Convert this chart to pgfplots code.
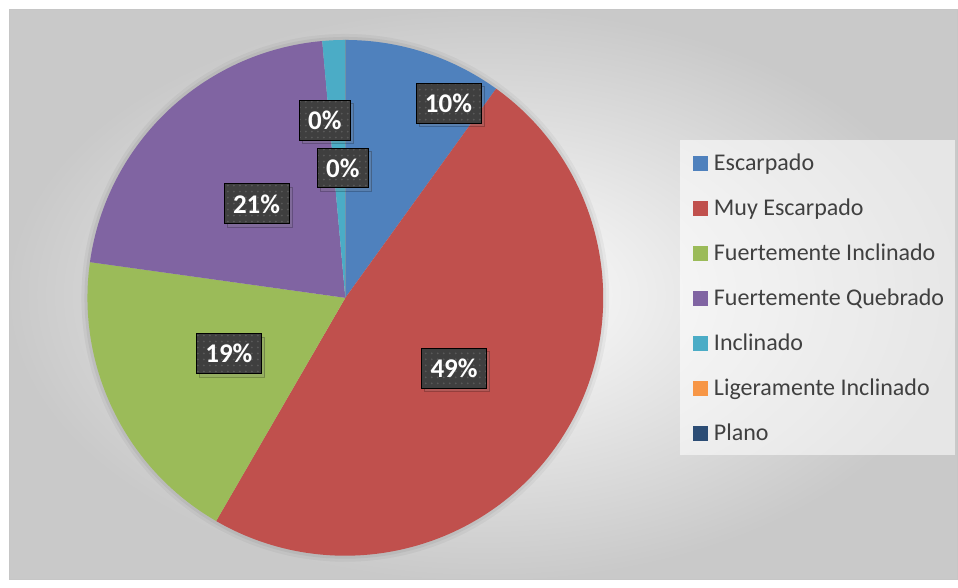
\documentclass[border=0pt]{standalone}
\usepackage{pgfplots}
\pgfplotsset{compat=1.18}
\usepackage{pgfplotstable}
\usepackage{fontspec}
\setmainfont{Carlito}
\usetikzlibrary{patterns,shadows}

\definecolor{cEsc}{HTML}{4F81BD}
\definecolor{cMuy}{HTML}{C0504D}
\definecolor{cFI}{HTML}{9BBB59}
\definecolor{cFQ}{HTML}{8064A2}
\definecolor{cInc}{HTML}{4BACC6}
\definecolor{cLig}{HTML}{F79646}
\definecolor{cPla}{HTML}{2C4D75}
\definecolor{txt}{HTML}{404040}
\definecolor{lblbg}{HTML}{3F3F3F}

% slice shares (%), clockwise from the top
\pgfplotstableread{
value color
9.94  cEsc
48.41 cMuy
18.86 cFI
21.36 cFQ
1.43  cInc
0     cLig
0     cPla
}\piedata

% data labels, placed in pixel units of the chart
\pgfplotstableread{
x     y     pct
448.7 476.7 10
325.0 460.0 0
343.0 412.0 0
256.7 376.0 21
229.0 226.0 19
454.3 211.5 49
}\labeldata

\pgfplotstablegetrowsof{\piedata}
\pgfmathtruncatemacro\nslices{\pgfplotsretval-1}

\begin{document}
\begin{tikzpicture}
\begin{axis}[hide axis, scale only axis, width=479pt, height=290pt,
  xmin=0, xmax=958, ymin=0, ymax=580, clip=false,
  legend image code/.code={\fill[#1] (0pt,-3.5pt) rectangle (7pt,3.5pt);},
  legend cell align=left,
  legend style={at={(axis description cs:0.7231,0.7572)}, anchor=north west,
    draw=none, fill=none, inner sep=0pt, row sep=0pt,
    font=\fontsize{12}{14}\selectfont, text=txt,
    nodes={minimum height=22.5pt, inner ysep=0pt, inner xsep=3.2pt}}]

  % page and chart area
  \fill[white] (axis cs:0,0) rectangle (axis cs:958,580);
  \shade[inner color=white, outer color=gray!42] (axis cs:10,0) rectangle (axis cs:958,570);
  \draw[gray!45, line width=0.5pt] (axis cs:10,0) rectangle (axis cs:958,570);
  \fill[white, opacity=0.55] (axis cs:680,125) rectangle (axis cs:955,440);

  % soft halo round the pie
  \fill[black, opacity=0.04] (axis cs:345.5,282) circle[radius=132pt];
  \fill[black, opacity=0.05] (axis cs:345.5,282) circle[radius=130.5pt];

  % slices
  \def\startang{90}
  \pgfplotsforeachungrouped \i in {0,...,\nslices}{%
    \pgfplotstablegetelem{\i}{value}\of\piedata \let\v=\pgfplotsretval
    \pgfplotstablegetelem{\i}{color}\of\piedata \let\c=\pgfplotsretval
    \pgfmathsetmacro\endang{\startang-3.6*\v}
    \edef\temp{\noexpand\fill[\c] (axis cs:345.5,282) -- ++(\startang:129pt)
      arc[start angle=\startang, end angle=\endang, radius=129pt] -- cycle;}
    \temp
    \let\startang=\endang
  }

  % data labels
  \addplot[forget plot, only marks, mark=none, point meta=explicit symbolic,
    nodes near coords={\pgfplotspointmeta\%},
    every node near coord/.append style={anchor=center, fill=lblbg, text=white,
      font=\bfseries\fontsize{13.5}{16}\selectfont, inner xsep=4.5pt, inner ysep=0pt,
      minimum height=20pt,
      drop shadow={shadow xshift=1.6pt, shadow yshift=-1.6pt, opacity=0.22},
      postaction={pattern=dots, pattern color=gray!70!black}}]
    table[x=x, y=y, meta=pct] {\labeldata};

  \addlegendimage{cEsc} \addlegendentry{Escarpado}
  \addlegendimage{cMuy} \addlegendentry{Muy Escarpado}
  \addlegendimage{cFI}  \addlegendentry{Fuertemente Inclinado}
  \addlegendimage{cFQ}  \addlegendentry{Fuertemente Quebrado}
  \addlegendimage{cInc} \addlegendentry{Inclinado}
  \addlegendimage{cLig} \addlegendentry{Ligeramente Inclinado}
  \addlegendimage{cPla} \addlegendentry{Plano}
\end{axis}
\end{tikzpicture}
\end{document}
